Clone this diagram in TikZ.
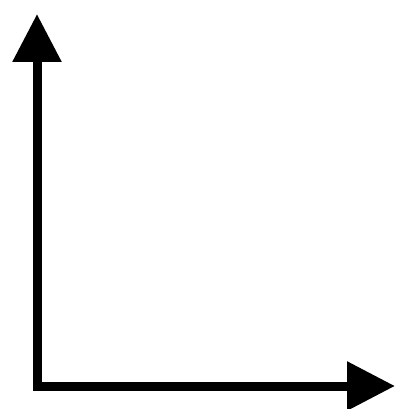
\documentclass[tikz,border=0pt]{standalone}
\usetikzlibrary{arrows.meta}
\tikzset{
  axis/.style = {{Triangle[length=48pt,width=47pt]}-{Triangle[length=48pt,width=47pt]},
                 line width=9pt, line join=miter, draw=black},
}
\begin{document}
\begin{tikzpicture}[x=1pt, y=-1pt]
  \useasboundingbox (0,0) rectangle (397,409);
  % ---------- axes --------------------------------------------------------
  \coordinate (origin) at (37,386);
  \coordinate (ytip) at (37,14);
  \coordinate (xtip) at (395,386);
  \draw[axis] (ytip) -- (origin) -- (xtip);
\end{tikzpicture}
\end{document}
